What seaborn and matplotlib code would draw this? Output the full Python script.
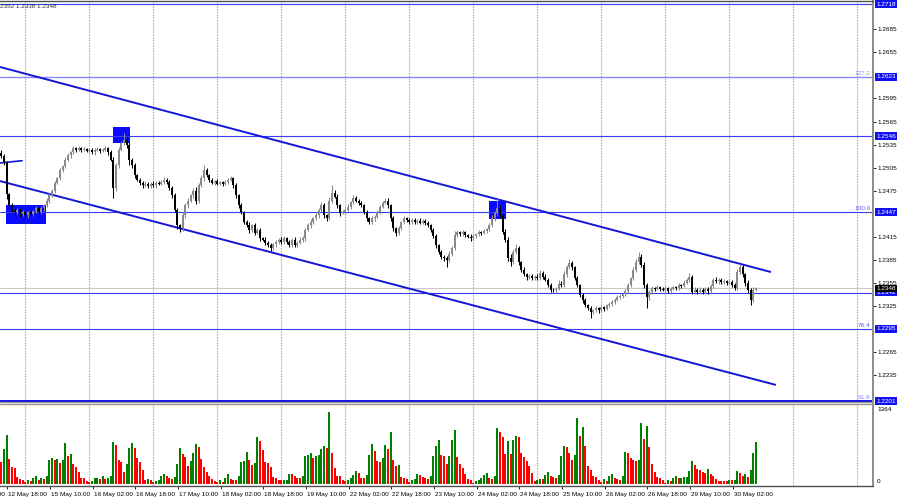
import numpy as np
import seaborn as sns
import matplotlib.pyplot as plt
from matplotlib import transforms

# GBPUSD H1, 12 May 02:00 -> 30 May 03:00
# closes in pips above 1.2000
close_pips = [
    520, 512, 470, 456, 450, 447, 450, 444, 447, 443,
    447, 445, 448, 452, 447, 452, 456, 462, 469, 475,
    485, 491, 502, 507, 515, 521, 525, 530, 528, 530,
    528, 529, 527, 528, 525, 528, 529, 527, 528, 530,
    525, 515, 479, 508, 528, 537, 541, 534, 515, 508,
    495, 489, 485, 482, 484, 481, 484, 482, 485, 484,
    486, 489, 486, 479, 469, 450, 430, 426, 443, 456,
    462, 469, 475, 462, 482, 491, 502, 495, 489, 485,
    487, 484, 486, 484, 486, 489, 491, 482, 469, 456,
    447, 434, 430, 424, 430, 420, 424, 413, 411, 407,
    404, 400, 405, 408, 411, 408, 413, 408, 404, 411,
    404, 407, 411, 413, 424, 430, 434, 439, 443, 450,
    456, 443, 439, 462, 472, 467, 456, 446, 447, 450,
    454, 460, 465, 462, 459, 456, 447, 439, 434, 439,
    441, 447, 454, 459, 462, 456, 439, 426, 420, 426,
    434, 439, 437, 434, 437, 434, 436, 433, 436, 433,
    430, 424, 416, 404, 395, 389, 387, 385, 392, 400,
    417, 421, 418, 421, 417, 415, 413, 416, 418, 421,
    420, 422, 425, 430, 439, 446, 452, 443, 421, 411,
    387, 382, 395, 400, 382, 372, 366, 362, 364, 361,
    363, 361, 368, 363, 359, 352, 346, 345, 347, 354,
    352, 366, 375, 381, 375, 361, 352, 339, 333, 326,
    322, 317, 319, 322, 319, 323, 321, 326, 327, 330,
    333, 336, 338, 340, 344, 352, 361, 372, 382, 389,
    378, 352, 336, 343, 348, 347, 349, 347, 346, 348,
    344, 347, 349, 348, 352, 351, 355, 359, 362, 343,
    346, 343, 346, 343, 347, 344, 351, 359, 357, 359,
    356, 357, 355, 356, 352, 348, 369, 375, 366, 355,
    346, 333, 346, 348,
]
first_open = 524

# wick lengths in pips above the body / below the body
up_wick = [
    4, 3, 2, 2, 3, 2, 3, 2, 3, 2,  2, 3, 2, 3, 2, 3, 2, 3, 3, 2,
    3, 2, 3, 2, 4, 3, 2, 3, 2, 3,  2, 3, 2, 2, 3, 2, 3, 2, 2, 3,
    2, 3, 4, 3, 4, 3, 9, 5, 4, 3,  3, 2, 3, 2, 3, 2, 2, 3, 2, 3,
    3, 4, 2, 3, 2, 3, 3, 2, 4, 3,  3, 2, 4, 5, 3, 4, 6, 3, 2, 3,
    2, 3, 2, 2, 3, 2, 3, 2, 3, 2,  3, 2, 3, 4, 2, 3, 2, 3, 2, 3,
    2, 3, 2, 3, 2, 4, 3, 2, 3, 2,  3, 2, 3, 3, 2, 3, 4, 2, 3, 3,
    4, 3, 2, 5, 10, 4, 3, 2, 3, 2, 3, 2, 4, 3, 2, 3, 2, 3, 2, 3,
    2, 3, 2, 3, 4, 3, 2, 3, 2, 3,  2, 3, 2, 2, 3, 2, 2, 3, 2, 2,
    3, 2, 2, 3, 2, 3, 2, 3, 4, 3,  5, 3, 2, 3, 2, 2, 3, 2, 2, 3,
    2, 3, 2, 3, 4, 3, 15, 4, 3, 4, 3, 5, 4, 6, 3, 2, 3, 2, 3, 2,
    2, 3, 4, 2, 3, 2, 3, 2, 3, 4,  3, 4, 3, 5, 3, 2, 3, 2, 3, 2,
    2, 3, 2, 3, 2, 3, 2, 2, 3, 2,  2, 3, 2, 2, 3, 3, 2, 3, 4, 6,
    3, 4, 3, 2, 3, 2, 3, 2, 2, 3,  2, 3, 2, 2, 3, 2, 3, 2, 6, 3,
    3, 2, 3, 2, 3, 2, 3, 2, 3, 2,  2, 3, 2, 3, 2, 3, 4, 5, 3, 2,
    3, 2, 3, 2,
]
down_wick = [
    3, 4, 6, 4, 3, 4, 3, 3, 2, 4,  3, 2, 3, 2, 3, 2, 3, 2, 3, 2,
    3, 2, 2, 3, 2, 2, 3, 2, 3, 2,  3, 2, 2, 3, 2, 3, 2, 3, 2, 2,
    3, 2, 14, 4, 3, 2, 3, 4, 6, 3, 3, 2, 3, 3, 2, 3, 2, 2, 3, 2,
    2, 3, 2, 3, 4, 3, 5, 5, 4, 3,  3, 2, 3, 4, 3, 2, 3, 2, 3, 2,
    3, 2, 2, 3, 2, 3, 2, 3, 3, 4,  3, 3, 2, 4, 3, 3, 2, 3, 2, 3,
    3, 4, 2, 3, 2, 3, 2, 3, 3, 2,  3, 2, 2, 3, 3, 2, 3, 2, 2, 3,
    3, 4, 3, 2, 3, 2, 3, 4, 2, 3,  2, 3, 2, 2, 3, 2, 3, 4, 3, 2,
    3, 2, 3, 2, 2, 3, 3, 4, 4, 3,  2, 2, 3, 2, 3, 2, 3, 2, 2, 3,
    2, 3, 3, 4, 3, 3, 4, 10, 3, 2, 2, 3, 2, 2, 3, 2, 3, 2, 3, 2,
    3, 2, 2, 3, 2, 3, 3, 3, 2, 3,  4, 5, 3, 3, 4, 3, 2, 3, 2, 3,
    2, 3, 2, 3, 2, 3, 3, 2, 3, 2,  3, 2, 3, 2, 3, 3, 2, 3, 4, 3,
    3, 8, 3, 2, 3, 2, 3, 2, 3, 2,  3, 2, 2, 3, 2, 2, 3, 2, 3, 2,
    3, 4, 14, 3, 2, 3, 2, 3, 2, 3, 2, 3, 2, 3, 2, 3, 2, 2, 3, 3,
    2, 3, 2, 3, 2, 3, 2, 3, 2, 3,  3, 2, 3, 2, 3, 3, 2, 3, 3, 4,
    4, 7, 3, 2,
]

# tick volumes
volumes = [
    389, 620, 867, 443, 301, 283, 124, 89, 71, 35,
    71, 53, 106, 142, 71, 106, 89, 142, 425, 460,
    425, 443, 372, 425, 726, 496, 531, 354, 301, 212,
    106, 98, 53, 35, 53, 106, 112, 89, 142, 89,
    106, 142, 743, 690, 425, 389, 212, 354, 637, 726,
    637, 460, 389, 248, 71, 89, 71, 35, 53, 71,
    142, 177, 142, 106, 89, 124, 354, 637, 531, 478,
    319, 407, 549, 708, 655, 443, 301, 212, 142, 89,
    53, 35, 71, 35, 106, 177, 89, 71, 64, 142,
    389, 407, 566, 425, 336, 372, 832, 761, 602, 389,
    380, 301, 124, 106, 71, 68, 74, 78, 177, 170,
    142, 106, 98, 142, 496, 513, 549, 460, 496, 513,
    620, 673, 637, 1274, 549, 283, 142, 136, 71, 53,
    71, 106, 159, 230, 195, 106, 101, 159, 513, 708,
    584, 407, 389, 460, 690, 620, 920, 425, 319, 336,
    124, 106, 89, 35, 71, 89, 177, 159, 124, 106,
    89, 142, 496, 673, 779, 513, 496, 354, 496, 779,
    956, 478, 354, 283, 177, 89, 71, 18, 53, 71,
    106, 159, 195, 106, 89, 142, 991, 920, 832, 531,
    761, 531, 779, 850, 832, 549, 478, 407, 319, 195,
    53, 71, 89, 85, 159, 212, 142, 124, 106, 159,
    496, 673, 655, 549, 425, 513, 1168, 850, 1009, 673,
    319, 248, 142, 124, 71, 35, 89, 53, 142, 177,
    106, 89, 71, 142, 566, 549, 460, 425, 407, 425,
    1080, 797, 1027, 655, 354, 212, 124, 106, 71, 18,
    71, 53, 106, 142, 106, 115, 120, 124, 230, 407,
    336, 266, 248, 212, 195, 266, 177, 142, 89, 53,
    50, 48, 45, 71, 68, 71, 230, 195, 142, 177,
    124, 248, 549, 743,
]

time_labels = ["12 May 02:00", "12 May 18:00", "15 May 10:00", "16 May 02:00",
               "16 May 18:00", "17 May 10:00", "18 May 02:00", "18 May 18:00",
               "19 May 10:00", "22 May 02:00", "22 May 18:00", "23 May 10:00",
               "24 May 02:00", "24 May 18:00", "25 May 10:00", "26 May 02:00",
               "26 May 18:00", "29 May 10:00", "30 May 02:00"]
# scale ticks that are not hidden behind the object price labels
price_ticks = [1.2235, 1.2265, 1.2325, 1.2355, 1.2385, 1.2415,
               1.2475, 1.2505, 1.2535, 1.2565, 1.2595, 1.2655, 1.2685]
level_prices = [1.2718, 1.2623, 1.2546, 1.2447, 1.2342, 1.2295, 1.2201]
fib_levels = {1.2623: "127.2", 1.2447: "100.0", 1.2295: "76.4", 1.2201: "61.8"}
current_price = 1.2348
header_text = "2352 1.2338 1.2348"

# channel (bar index, price)
upper_channel = ([-0.5, 288.6], [1.2636, 1.2369])
lower_channel = ([-0.5, 290.5], [1.24875, 1.2222])
short_line = ([-0.5, 7.8], [1.2511, 1.2514])
# rectangles: bar from, bar to, price low, price high
boxes = [(1.8, 16.8, 1.2432, 1.2456),
         (41.9, 48.3, 1.2537, 1.2558),
         (182.9, 189.3, 1.2438, 1.24615)]

# ---------------- derived ----------------
n = len(close_pips)
idx = np.arange(n)
closes = 1.2 + np.array(close_pips) / 10000
opens = np.r_[1.2 + first_open / 10000, closes[:-1]]
highs = np.maximum(opens, closes) + np.array(up_wick) / 10000
lows = np.minimum(opens, closes) - np.array(down_wick) / 10000
vol = np.array(volumes)
vol_dir = ["down"] + ["up" if vol[i] > vol[i - 1] else "down" for i in range(1, n)]

sns.set_style("white")
plt.rcParams['font.family'] = ['Liberation Sans', 'DejaVu Sans']

W, H = 900, 500
fig = plt.figure(figsize=(9, 5), dpi=100)
ax = fig.add_axes([0, (H - 402) / H, 873 / W, 401 / H])
axv = fig.add_axes([0, (H - 486) / H, 873 / W, 82 / H])

px_per_bar = 64 / 24
xlim = (-0.5, 873 / px_per_bar - 0.5)
grid_x = np.arange(25 / px_per_bar - 0.5, xlim[1], 24)

FS = 4.6

# ---------------- price pane ----------------
for gx in grid_x:
    ax.axvline(gx, color='#b4b4b4', lw=0.8, ls=(0, (1.6, 0.9)), zorder=0.5)

for (x0, x1, p0, p1) in boxes:
    ax.fill_between([x0, x1], p0, p1, color='#0a0aff', lw=0, zorder=1)

for p in level_prices:
    if p == 1.2623:
        ax.axhline(p, color='#8888ff', lw=1.0, zorder=1.5)
    elif p == 1.2201:
        ax.axhline(p, color='#0000e0', lw=2.0, zorder=1.5)
    else:
        ax.axhline(p, color='#3a3aff', lw=0.8, zorder=1.5)
ax.axhline(current_price, color='#c8c8c8', lw=0.8, zorder=1.4)

ax.plot(*upper_channel, color='#1515d8', lw=1.4, zorder=2, solid_capstyle='butt')
ax.plot(*lower_channel, color='#1515d8', lw=1.4, zorder=2, solid_capstyle='butt')
ax.plot(*short_line, color='#1515d8', lw=1.2, zorder=2)

ccol = np.where(closes >= opens, '#8a8a8a', '#000000')
ax.vlines(idx, lows, highs, colors=ccol, lw=0.75, zorder=3)
body = np.maximum(np.abs(closes - opens), 0.00008)
ax.bar(idx, body, bottom=np.minimum(opens, closes), width=0.8,
       color=ccol, linewidth=0, zorder=3.1)

ax.set_xlim(*xlim)
ax.set_ylim(1.2718 - 398 * 0.0001302, 1.2718 + 3 * 0.0001302)
ax.set_xticks([])
ax.yaxis.tick_right()
ax.set_yticks(price_ticks)
ax.set_yticklabels([f"{p:.4f}" for p in price_ticks])
ax.tick_params(axis='y', which='both', right=True, length=2, width=0.6,
               pad=1.5, labelsize=FS, colors='black')
ax.spines['left'].set_visible(False)
ax.spines['right'].set_color('#8c8c8c')
ax.spines['right'].set_linewidth(1.4)
ax.spines['top'].set_color('#505050')
ax.spines['top'].set_linewidth(1.0)
ax.spines['bottom'].set_color('#9a9a9a')
ax.spines['bottom'].set_linewidth(1.0)

ytr = transforms.blended_transform_factory(ax.transAxes, ax.transData)
for p in level_prices:
    ax.text(1.004, p, f"{p:.4f}", transform=ytr, ha='left', va='center',
            fontsize=FS, color='white', clip_on=False, zorder=6,
            bbox=dict(boxstyle='square,pad=0.18', fc='#1010f0', ec='none'))
ax.text(1.004, current_price, f"{current_price:.4f}", transform=ytr,
        ha='left', va='center', fontsize=FS, color='white', clip_on=False,
        zorder=6, bbox=dict(boxstyle='square,pad=0.18', fc='black', ec='none'))
for p, name in fib_levels.items():
    col = '#8c8cf0' if name in ("127.2", "61.8") else '#5858f0'
    ax.text(0.997, p + 0.00012, name, transform=ytr, ha='right', va='bottom',
            fontsize=FS, color=col, zorder=5)
ax.text(0.0, 0.992, header_text, transform=ax.transAxes, ha='left', va='top',
        fontsize=FS, color='#303030')

# ---------------- volume pane ----------------
for gx in grid_x:
    axv.axvline(gx, color='#b4b4b4', lw=0.8, ls=(0, (1.6, 0.9)), zorder=0.5)

sns.barplot(x=idx, y=vol, hue=vol_dir, palette={'up': '#008000', 'down': '#ff0000'},
            native_scale=True, dodge=False, width=0.78, saturation=1,
            linewidth=0, legend=False, ax=axv, zorder=2)
axv.set_xlabel('')
axv.set_ylabel('')
axv.yaxis.tick_right()
axv.set_yticks([0, 1364])
axv.set_yticklabels(['0', '1364'])
axv.tick_params(axis='y', length=0, pad=3, labelsize=FS, colors='black')
axv.get_yticklabels()[0].set_va('bottom')
axv.get_yticklabels()[1].set_va('top')

label_x = [2.6 + 16 * (k - 1) for k in range(len(time_labels))]
axv.set_xticks([x - 0.4 for x in label_x if x > 0])
axv.set_xticklabels([])
axv.tick_params(axis='x', length=2, width=0.6, colors='black', bottom=True)
axv.set_xlim(*xlim)
axv.set_ylim(-35, 1416)
xtr = transforms.blended_transform_factory(axv.transData, axv.transAxes)
for x, lab in zip(label_x, time_labels):
    axv.text(x, -0.07, lab, transform=xtr, ha='left', va='top',
             fontsize=FS, color='black', clip_on=False)

axv.spines['left'].set_visible(False)
axv.spines['right'].set_color('#8c8c8c')
axv.spines['right'].set_linewidth(1.4)
axv.spines['top'].set_color('#9a9a9a')
axv.spines['top'].set_linewidth(1.0)
axv.spines['bottom'].set_color('#505050')
axv.spines['bottom'].set_linewidth(1.0)

fig.savefig('out.png', dpi=100, facecolor='white')
